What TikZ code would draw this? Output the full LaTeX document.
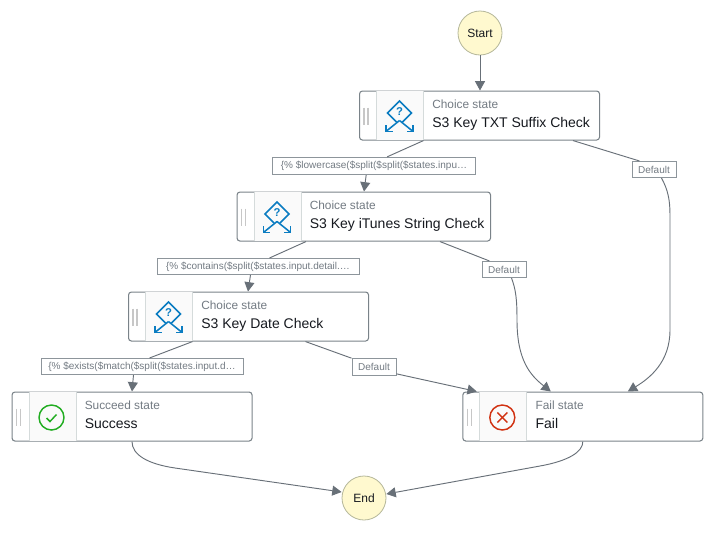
\documentclass[tikz,border=0pt]{standalone}
\usepackage{fontspec}
\setmainfont{Liberation Sans}
\usetikzlibrary{calc,arrows.meta}
\definecolor{edgegray}{HTML}{687078}
\definecolor{boxline}{HTML}{7A8389}
\definecolor{labelline}{HTML}{8D959B}
\definecolor{panel}{HTML}{FAFAFA}
\definecolor{panelline}{HTML}{D5DBDB}
\definecolor{startfill}{HTML}{FFF9CF}
\definecolor{startline}{HTML}{B5B79A}
\definecolor{subtext}{HTML}{737B83}
\definecolor{maintext}{HTML}{16191F}
\definecolor{choiceblue}{HTML}{0A7CC1}
\definecolor{okgreen}{HTML}{22AD22}
\definecolor{failred}{HTML}{D13212}
\tikzset{
  statebox/.style={draw=boxline,line width=.8pt,rounded corners=2.2pt,fill=white,minimum width=180pt,minimum height=36.75pt,inner sep=0pt,anchor=north west},
  startend/.style={circle,draw=startline,line width=.6pt,fill=startfill,minimum size=33pt,inner sep=0pt,font=\fontsize{9pt}{11pt}\selectfont,text=maintext},
  edgelabel/.style={draw=labelline,line width=.75pt,fill=white,inner sep=0pt,font=\fontsize{7.5pt}{9pt}\selectfont,text=subtext},
  kindtext/.style={anchor=base west,inner sep=0pt,font=\fontsize{8.9pt}{11pt}\selectfont,text=subtext},
  nametext/.style={anchor=base west,inner sep=0pt,font=\fontsize{10.5pt}{13pt}\selectfont,text=maintext},
  conn/.style={draw=edgegray,line width=.7pt,-{Triangle[length=7pt,width=7.5pt]}},
  plain/.style={draw=edgegray,line width=.7pt},
}
% frame: #1 name, #2 x, #3 y, #4 width(px), #5 kind, #6 name text
\newcommand{\frameState}[6]{
  \node[statebox,minimum width=#4*.75pt] (#1) at (#2,#3) {};
  \fill[panel] ($(#1.north west)+(17.5,0.6)$) rectangle ($(#1.south west)+(64.5,-0.6)$);
  \draw[panelline,line width=.6pt] ($(#1.north west)+(17.5,0.6)$) -- ($(#1.south west)+(17.5,-0.6)$);
  \draw[panelline,line width=.6pt] ($(#1.north west)+(64.5,0.6)$) -- ($(#1.south west)+(64.5,-0.6)$);
  \draw[black!22,line width=1.1pt] ($(#1.north west)+(5,17)$) -- +(0,17);
  \draw[black!22,line width=1.1pt] ($(#1.north west)+(9,17)$) -- +(0,17);
  \node[kindtext] (#1k) at ($(#1.north west)+(73,17.5)$) {#5};
  \node[nametext] (#1n) at ($(#1.north west)+(73,36.5)$) {#6};
}
\newcommand{\choiceIcon}[1]{
  \begin{scope}[shift={($(#1.north west)+(40.5,22.5)$)},choiceblue,line width=1.15pt]
    \draw (-3,9) -- (-12,0) -- (0,-12) -- (12,0) -- (3,9);
    \draw (0,7.5) -- (-13,18);
    \draw (0,7.5) -- (13,18);
    \draw (-13.5,12) -- (-13.5,18.5) -- (-7,18.5);
    \draw (13.5,12) -- (13.5,18.5) -- (7,18.5);
    \node[text=choiceblue,inner sep=0pt,font=\fontsize{8.5pt}{9pt}\selectfont\bfseries] at (0,-1) {?};
  \end{scope}
}
\newcommand{\succeedIcon}[1]{
  \begin{scope}[shift={($(#1.north west)+(40,26)$)},okgreen,line width=1.1pt]
    \draw (0,0) circle[radius=12.5*.75pt];
    \draw (-5,0.5) -- (-1.5,4) -- (5,-3);
  \end{scope}
}
\newcommand{\failIcon}[1]{
  \begin{scope}[shift={($(#1.north west)+(40,26)$)},failred,line width=1.1pt]
    \draw (0,0) circle[radius=12.5*.75pt];
    \draw (-5,-5) -- (5,5);
    \draw (5,-5) -- (-5,5);
  \end{scope}
}
\begin{document}
\begin{tikzpicture}[x=.75pt,y=-.75pt]
\useasboundingbox (0,0) rectangle (715,533);
\fill[white] (0,0) rectangle (715,533);

\node[startend] (start) at (480,33) {Start};
\node[startend] (end) at (364,498) {End};

\frameState{s1}{359}{90.5}{240}{Choice state}{S3 Key TXT Suffix Check}
\frameState{s2}{236.5}{191.5}{253.5}{Choice state}{S3 Key iTunes String Check}
\frameState{s3}{128}{291.5}{240}{Choice state}{S3 Key Date Check}
\frameState{s4}{11.5}{391.5}{240}{Succeed state}{Success}
\frameState{s5}{462.3}{391.5}{240}{Fail state}{Fail}
\choiceIcon{s1}\choiceIcon{s2}\choiceIcon{s3}
\succeedIcon{s4}\failIcon{s5}

\node[edgelabel,minimum width=152pt,minimum height=13pt] (l1) at (374,166) {\{\% \$lowercase(\$split(\$split(\$states.inpu…};
\node[edgelabel,minimum width=151.5pt,minimum height=12pt] (l2) at (258,266.5) {\{\% \$contains(\$split(\$states.input.detail.…};
\node[edgelabel,minimum width=151.5pt,minimum height=12pt] (l3) at (142,366.5) {\{\% \$exists(\$match(\$split(\$states.input.d…};
\node[edgelabel,minimum width=33pt,minimum height=12pt] (d1) at (654,169.5) {Default};
\node[edgelabel,minimum width=33pt,minimum height=12pt] (d2) at (504,269.5) {Default};
\node[edgelabel,minimum width=33pt,minimum height=12.5pt] (d3) at (374,367) {Default};

\draw[conn] (start.south) -- ($(s1.north west)+(121,0)$);

\draw[plain] ($(s1.south west)+(64.5,0)$) -- ($(l1.north west)+(115,0)$);
\draw[conn] ($(l1.south west)+(94,0)$) -- ($(s2.north west)+(127.5,0)$);
\draw[plain] ($(s2.south west)+(69.5,0)$) -- ($(l2.north west)+(113,0)$);
\draw[conn] ($(l2.south west)+(94,0)$) -- ($(s3.north west)+(120,0)$);
\draw[plain] ($(s3.south west)+(64.5,0)$) -- ($(l3.north west)+(109,0)$);
\draw[conn] ($(l3.south west)+(93,0)$) -- ($(s4.north west)+(120.5,0)$);

\draw[plain] ($(s1.south west)+(214,0)$) -- ($(d1.north west)+(8,0)$);
\draw[conn] ($(d1.south west)+(30,0)$) .. controls (668,190) and (670,200) .. (670,215) -- (670,330) .. controls (670,362) and (650,378) .. ($(s5.north west)+(165.5,0)$);
\draw[plain] ($(s2.south west)+(203.5,0)$) -- ($(d2.north west)+(8,0)$);
\draw[conn] ($(d2.south west)+(30,0)$) .. controls (516,290) and (517,300) .. (517,320) .. controls (517,360) and (530,375) .. ($(s5.north west)+(88.5,0)$);
\draw[plain] ($(s3.south west)+(177.5,0)$) -- (d3.north west);
\draw[conn] ($(d3.south east)+(0,-2)$) -- ($(s5.north west)+(14.5,0)$);

\draw[conn] ($(s4.south west)+(120.5,0)$) .. controls (132,455) and (148,464) .. (175,468) -- ($(end.west)+(0,-6)$);
\draw[conn] ($(s5.south west)+(120.5,0)$) .. controls (583,452) and (568,461) .. (540,466) -- ($(end.east)+(0,-4)$);
\end{tikzpicture}
\end{document}
